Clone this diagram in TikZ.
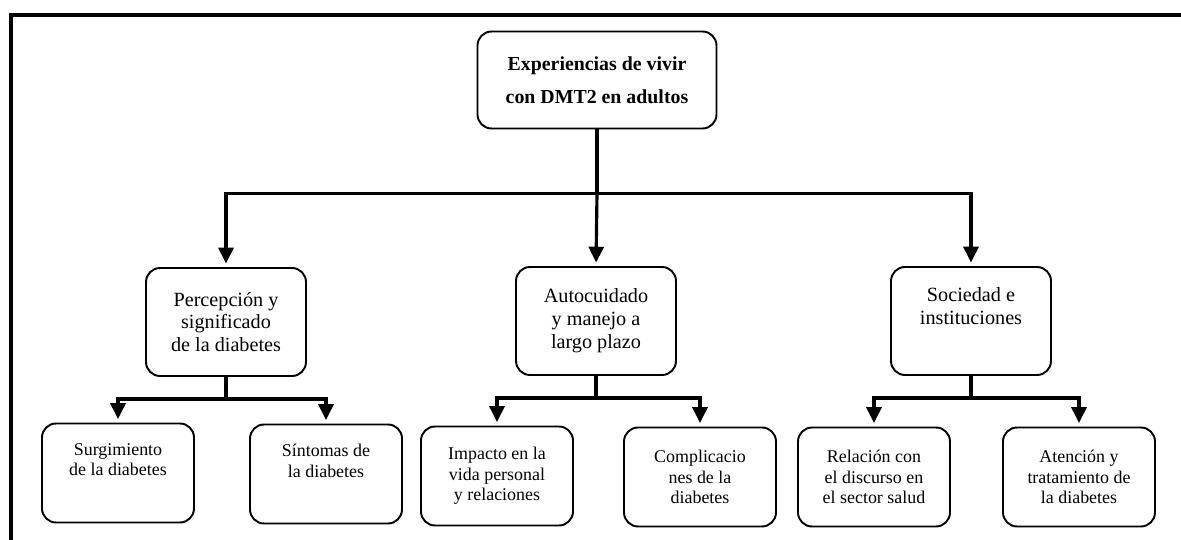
\documentclass[tikz,border=0pt]{standalone}
\usepackage{fontspec}
\setmainfont{Liberation Serif}
\usetikzlibrary{arrows.meta}

\tikzset{
  box/.style={draw, rounded corners=0.28cm, line width=1.1pt, align=center},
  topbox/.style={box, minimum width=4.78cm, minimum height=1.94cm, font=\bfseries\fontsize{11.3}{18.7}\selectfont},
  midbox/.style={box, minimum width=3.2cm, minimum height=2.16cm, font=\fontsize{11.5}{13}\selectfont},
  leafbox/.style={box, minimum width=3.04cm, minimum height=1.98cm, font=\fontsize{10.2}{11.7}\selectfont},
  link/.style={line width=1.8pt},
  arr/.style={link, -{Triangle[length=9pt,width=8.5pt]}, shorten >=2pt},
}

\begin{document}
\begin{tikzpicture}[x=0.02cm,y=-0.02cm]
\useasboundingbox (0,0) rectangle (1181,540);
\draw[line width=2pt] (11,540) -- (11,15) -- (1181,15);

\node[topbox](exp) at (597,80) {Experiencias de vivir\\con DMT2 en adultos};

\node[midbox](perc) at (226,322) {Percepción y\\significado\\de la diabetes};
\node[midbox](auto) at (596,321) {Autocuidado\\y manejo a\\largo plazo};
\node[midbox](soc) at (971,321) {Sociedad e\\instituciones\\\strut};

\node[leafbox](surg) at (118,473) {Surgimiento\\de la diabetes\\\strut};
\node[leafbox](sint) at (326,474) {Síntomas de\\la diabetes\\\strut};
\node[leafbox](imp) at (497,476) {Impacto en la\\vida personal\\y relaciones};
\node[leafbox](comp) at (700,477) {Complicacio\\nes de la\\diabetes};
\node[leafbox](rel) at (874,477) {Relación con\\el discurso en\\el sector salud};
\node[leafbox](aten) at (1079,477) {Atención y\\tratamiento de\\la diabetes};

% first level
\draw[link] (exp.south) -- ++(0,64) coordinate (bus);
\draw[arr] (bus) -| (perc.north);
\draw[arr] (bus) -- (auto.north);
\draw[arr] (bus) -| (soc.north);

% second level
\draw[link] (perc.south) -- ++(0,22) coordinate (pbus);
\draw[arr] (pbus) -| (surg.north);
\draw[arr] (pbus) -| (sint.north);

\draw[link] (auto.south) -- ++(0,22) coordinate (abus);
\draw[arr] (abus) -| (imp.north);
\draw[arr] (abus) -| (comp.north);

\draw[link] (soc.south) -- ++(0,22) coordinate (sbus);
\draw[arr] (sbus) -| (rel.north);
\draw[arr] (sbus) -| (aten.north);

\end{tikzpicture}
\end{document}
